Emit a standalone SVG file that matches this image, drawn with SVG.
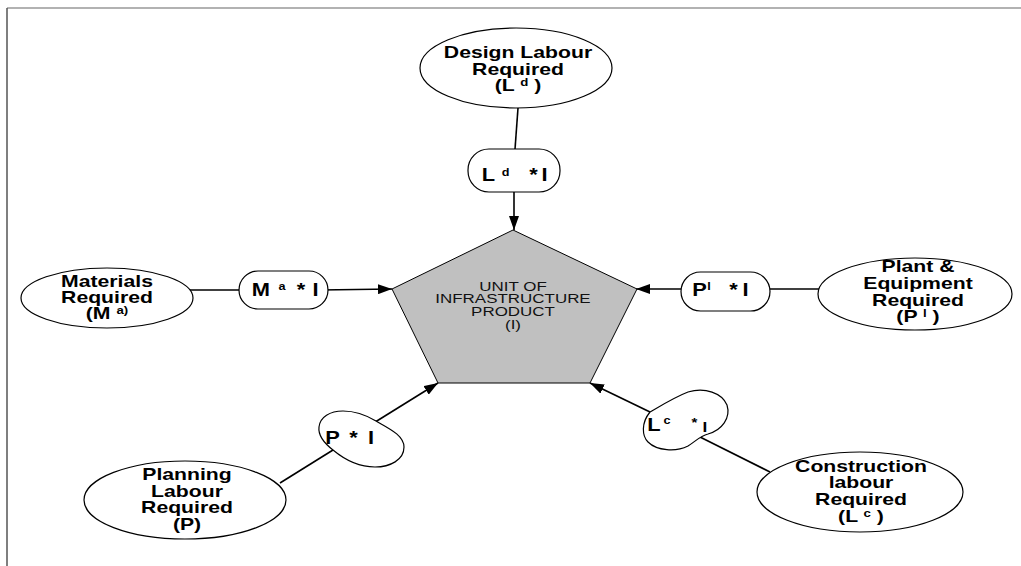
<svg xmlns="http://www.w3.org/2000/svg" width="1021" height="566" viewBox="0 0 1021 566">
<style>
.bg{fill:#fff}
.ell{fill:#fff;stroke:#000;stroke-width:1.2}
.pill{fill:#fff;stroke:#000;stroke-width:1.2}
.pent{fill:#c0c0c0;stroke:#000;stroke-width:1}
.conn{stroke:#000;stroke-width:1.6;fill:none}
.t{font-family:"Liberation Sans",Arial,sans-serif;font-weight:bold;font-size:16px;fill:#000;text-anchor:middle}
.tp{font-family:"Liberation Sans",Arial,sans-serif;font-weight:bold;font-size:19px;fill:#000;text-anchor:middle}
.sup{font-size:10px}
.sp{font-family:"Liberation Sans",Arial,sans-serif;font-weight:bold;font-size:11px;fill:#000;text-anchor:middle}
.pt{font-family:"Liberation Sans",Arial,sans-serif;font-size:12.8px;fill:#111;text-anchor:middle}
</style>
<defs>
<marker id="ah" markerWidth="14" markerHeight="10" refX="14" refY="5" orient="auto" markerUnits="userSpaceOnUse">
<path d="M0,0 L14,5 L0,10 Z" fill="#000"/>
</marker>
</defs>
<rect class="bg" x="0" y="0" width="1021" height="566"/>
<g id="frame">
<line x1="7" y1="8" x2="1021" y2="8" stroke="#999" stroke-width="1.5"/>
<line x1="7" y1="8" x2="7" y2="566" stroke="#555" stroke-width="1.5"/>
</g>

<g id="connectors">
<line class="conn" x1="518" y1="108" x2="514" y2="163"/>
<line class="conn" x1="514" y1="188" x2="514" y2="230" marker-end="url(#ah)"/>
<line class="conn" x1="190" y1="290" x2="247" y2="290"/>
<line class="conn" x1="320" y1="290" x2="392" y2="289" marker-end="url(#ah)"/>
<line class="conn" x1="819" y1="289" x2="757" y2="289"/>
<line class="conn" x1="687" y1="289" x2="636" y2="289" marker-end="url(#ah)"/>
<line class="conn" x1="280" y1="483" x2="333" y2="450"/>
<line class="conn" x1="372" y1="424" x2="438" y2="383" marker-end="url(#ah)"/>
<line class="conn" x1="770" y1="472" x2="700" y2="437"/>
<line class="conn" x1="650" y1="412" x2="590" y2="383" marker-end="url(#ah)"/>
</g>

<g id="product">
<polygon class="pent" points="513,230 637,289 590,383 438,383 392,289"/>
<g transform="translate(513,0) scale(1.325,1)">
<text class="pt" x="0" y="291">UNIT OF</text>
<text class="pt" x="0" y="303.5">INFRASTRUCTURE</text>
<text class="pt" x="0" y="316.5">PRODUCT</text>
<text class="pt" x="0" y="329">(I)</text>
</g>
</g>

<g id="design">
<ellipse class="ell" cx="516" cy="68" rx="96" ry="40"/>
<g transform="translate(518,0) scale(1.325,1)">
<text class="t" x="0" y="58">Design Labour</text>
<text class="t" x="0" y="75">Required</text>
<text class="t" x="0" y="91">(L <tspan class="sup" dy="-5">d</tspan><tspan dy="5"> )</tspan></text>
</g>
</g>

<g id="design-rate">
<rect class="pill" x="468" y="149" width="92" height="43" rx="21" ry="21"/>
<g transform="translate(514,0) scale(1.15,1)">
<text class="tp" x="-22.2" y="181">L</text>
<text class="sp" x="-7.4" y="176">d</text>
<text class="tp" x="17" y="181">*</text>
<text class="tp" x="26.5" y="181">I</text>
</g>
</g>

<g id="materials">
<ellipse class="ell" cx="107" cy="298" rx="86" ry="30"/>
<g transform="translate(107,0) scale(1.325,1)">
<text class="t" x="0" y="287">Materials</text>
<text class="t" x="0" y="303">Required</text>
<text class="t" x="0" y="319">(M <tspan class="sup" dy="-5">a)</tspan></text>
</g>
</g>

<g id="materials-rate">
<rect class="pill" x="239" y="271" width="89" height="38" rx="19" ry="19"/>
<g transform="translate(283.5,0) scale(1.15,1)">
<text class="tp" x="-19.6" y="296">M</text>
<text class="sp" x="-1.3" y="290">a</text>
<text class="tp" x="15.2" y="296">*</text>
<text class="tp" x="27.8" y="296">I</text>
</g>
</g>

<g id="plant">
<ellipse class="ell" cx="915" cy="294" rx="97" ry="36"/>
<g transform="translate(918,0) scale(1.325,1)">
<text class="t" x="0" y="272">Plant &amp;</text>
<text class="t" x="0" y="289">Equipment</text>
<text class="t" x="0" y="306">Required</text>
<text class="t" x="0" y="322">(P <tspan class="sup" dy="-5">l</tspan><tspan dy="5"> )</tspan></text>
</g>
</g>

<g id="plant-rate">
<rect class="pill" x="681" y="272" width="89" height="39" rx="19.5" ry="19.5"/>
<g transform="translate(725.5,0) scale(1.15,1)">
<text class="tp" x="-22.6" y="296">P</text>
<text class="sp" x="-14.3" y="290">l</text>
<text class="tp" x="7" y="296">*</text>
<text class="tp" x="17.4" y="296">I</text>
</g>
</g>

<g id="planning">
<ellipse class="ell" cx="185" cy="500" rx="101" ry="39"/>
<g transform="translate(187,0) scale(1.325,1)">
<text class="t" x="0" y="480">Planning</text>
<text class="t" x="0" y="497">Labour</text>
<text class="t" x="0" y="513">Required</text>
<text class="t" x="0" y="530">(P)</text>
</g>
</g>

<g id="planning-rate">
<path class="pill" d="M333,450 C324,443 318,435 319,427 C320,417 330,411 343,411 C356,411 366,415 376,421 C388,428 404,435 404,447 C404,460 390,467 375,467 C358,467 345,460 333,450 Z"/>
<g transform="translate(350,0) scale(1.15,1)">
<text class="tp" x="-15.2" y="444">P</text>
<text class="tp" x="3" y="444">*</text>
<text class="tp" x="18.3" y="444">I</text>
</g>
</g>

<g id="construction">
<ellipse class="ell" cx="860" cy="492" rx="103" ry="40"/>
<g transform="translate(861,0) scale(1.325,1)">
<text class="t" x="0" y="472">Construction</text>
<text class="t" x="0" y="488">labour</text>
<text class="t" x="0" y="505">Required</text>
<text class="t" x="0" y="522">(L <tspan class="sup" dy="-5">c</tspan><tspan dy="5"> )</tspan></text>
</g>
</g>

<g id="construction-rate">
<path class="pill" d="M650,412 C662,405 675,397 688,392 C705,387 722,393 727,405 C731,418 722,430 708,434 C700,436 696,441 688,446 C676,452 657,451 648,442 C642,436 641,423 650,412 Z"/>
<g transform="translate(675,0) scale(1.15,1)">
<text class="tp" x="-18.3" y="431">L</text>
<text class="sp" x="-7" y="424">c</text>
<text class="t" x="17" y="427" style="font-size:13px">*</text>
<text class="t" x="26.1" y="432" style="font-size:15px">I</text>
</g>
</g>
</svg>
